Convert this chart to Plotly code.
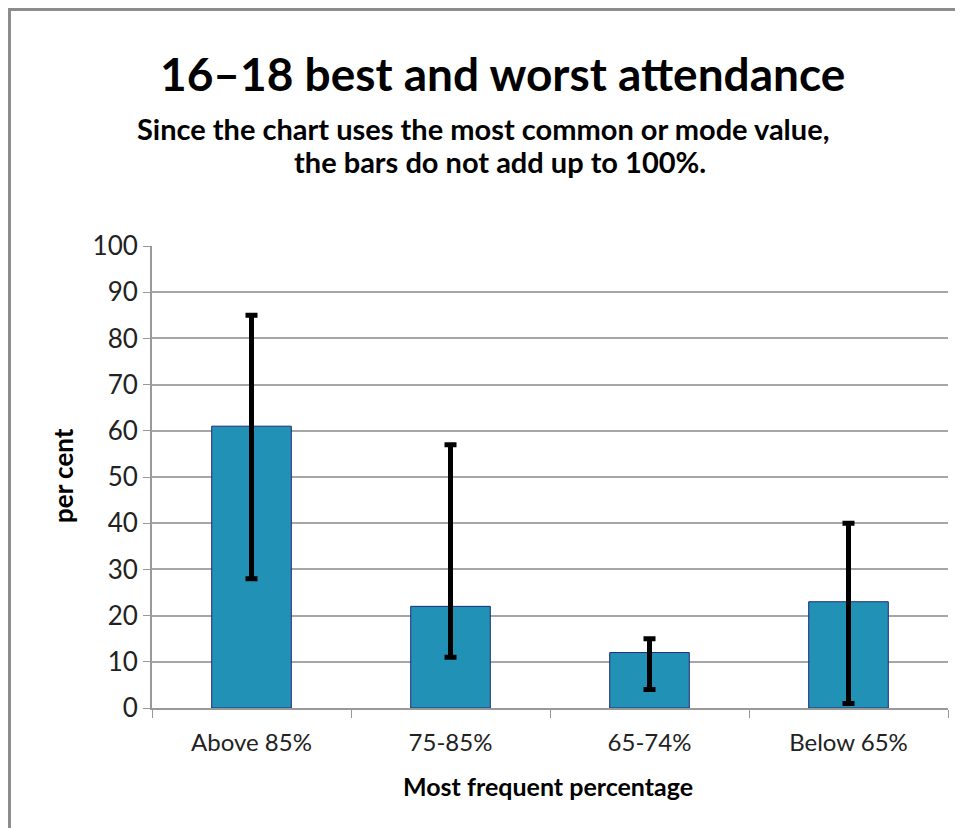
import plotly.graph_objects as go

categories = ["Above 85%", "75-85%", "65-74%", "Below 65%"]
mode_values = [61, 22, 12, 23]
upper_values = [85, 57, 15, 40]
lower_values = [28, 11, 4, 1]
y_ticks = list(range(0, 101, 10))

err_plus = [u - v for u, v in zip(upper_values, mode_values)]
err_minus = [v - l for v, l in zip(mode_values, lower_values)]

FONT = "Lato"
OFF = 8  # page body margin
W, H = 955, 820
L, T = 152 - OFF, 246 - OFF
pw, ph = 796, 462
R = W - L - pw
B = H - T - ph


def px_x(x):  # page pixel -> paper x
    return (x - OFF - L) / pw


def px_y(y):  # page pixel -> paper y
    return (T + ph - (y - OFF)) / ph


fig = go.Figure()
fig.add_trace(go.Bar(
    x=categories,
    y=mode_values,
    width=0.4,
    marker=dict(color="#2192B6", line=dict(color="#1F2A78", width=1)),
    error_y=dict(type="data", symmetric=False, array=err_plus, arrayminus=err_minus,
                 color="black", thickness=5, width=6),
    showlegend=False,
))

fig.update_layout(
    width=W, height=H,
    margin=dict(l=L, r=R, t=T, b=B),
    paper_bgcolor="white", plot_bgcolor="white",
    font=dict(family=FONT, color="#222"),
    xaxis=dict(
        type="category", tickson="boundaries", ticks="outside", ticklen=8,
        tickcolor="#999", showline=True, linecolor="#999", linewidth=2,
        showgrid=False, tickfont=dict(size=24, family=FONT, color="#222"),
        ticklabelstandoff=12,
    ),
    yaxis=dict(
        range=[0, 100], tickvals=y_ticks, ticks="outside", ticklen=7, tickcolor="#999",
        showline=True, linecolor="#999", linewidth=2, showgrid=True, gridcolor="#a6a6a6",
        gridwidth=1.5, zeroline=False, tickfont=dict(size=26, family=FONT, color="#222"),
    ),
)

fig.add_annotation(xref="paper", yref="paper", x=px_x(502), y=px_y(73),
                   text="<b>16–18 best and worst attendance</b>", showarrow=False,
                   xanchor="center", yanchor="middle", font=dict(size=46, family=FONT, color="black"))
fig.add_annotation(xref="paper", yref="paper", x=px_x(483), y=px_y(128),
                   text="<b>Since the chart uses the most common or mode value,</b>", showarrow=False,
                   xanchor="center", yanchor="middle", font=dict(size=29, family=FONT, color="black"))
fig.add_annotation(xref="paper", yref="paper", x=px_x(500), y=px_y(162),
                   text="<b>the bars do not add up to 100%.</b>", showarrow=False,
                   xanchor="center", yanchor="middle", font=dict(size=29, family=FONT, color="black"))
fig.add_annotation(xref="paper", yref="paper", x=px_x(548), y=px_y(786),
                   text="<b>Most frequent percentage</b>", showarrow=False,
                   xanchor="center", yanchor="middle", font=dict(size=25, family=FONT, color="black"))
fig.add_annotation(xref="paper", yref="paper", x=px_x(63), y=px_y(476),
                   text="<b>per cent</b>", showarrow=False, textangle=-90,
                   xanchor="center", yanchor="middle", font=dict(size=26, family=FONT, color="black"))

fig.add_shape(type="rect", xref="paper", yref="paper",
              x0=px_x(9.5), x1=px_x(1100), y0=px_y(1000), y1=px_y(9.5),
              line=dict(color="#8c8c8c", width=3), fillcolor="rgba(0,0,0,0)", layer="below")

fig.write_html("out.html")
